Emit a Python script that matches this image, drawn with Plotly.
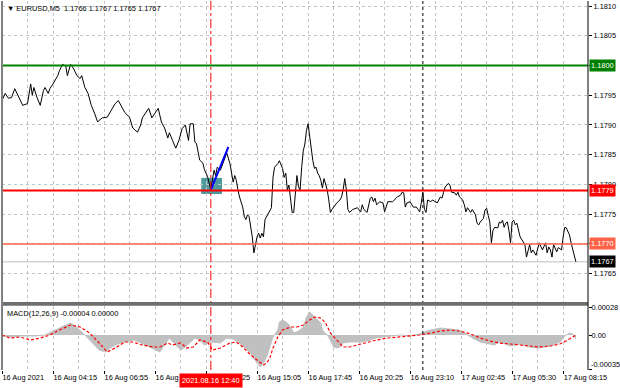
import plotly.graph_objects as go

# ---------------- data ----------------
price_bar = [0, 2, 4, 6, 8, 10, 13, 16, 18, 19, 20, 22, 24, 26, 27, 29, 30, 32, 35, 36, 38, 40, 41, 43, 45, 47, 49, 50,
             52, 54, 56, 58, 60, 61, 63, 66, 69, 71, 73, 75, 77, 80, 82, 85, 87, 88, 90, 92, 94, 96, 98, 100, 102, 104,
             105, 107, 109, 111, 113, 115, 117, 118, 120, 121, 122, 124, 126, 127, 129, 131, 132, 133, 134, 135, 137,
             138, 139, 140, 141, 143, 144, 145, 146, 147, 148, 149, 151, 152, 153, 154, 155, 156, 157, 158, 159, 160,
             161, 162, 163, 164, 165, 166, 168, 169, 170, 171, 173, 174, 176, 177, 178, 179, 180, 181, 182, 183, 184,
             185, 186, 187, 188, 189, 190, 191, 192, 193, 194, 195, 196, 197, 198, 199, 200, 201, 202, 204, 205, 206,
             207, 208, 210, 212, 213, 214, 215, 216, 217, 218, 220, 223, 225, 226, 227, 229, 231, 232, 233, 234, 235,
             237, 239, 240, 242, 245, 248, 250, 251, 252, 253, 254, 256, 258, 260, 261, 262, 263, 264, 265, 266, 267,
             269, 270, 273, 275, 276, 277, 278, 280, 281, 282, 284, 285, 286, 287, 289, 290, 291, 292, 294, 295, 297,
             298, 299, 300, 302, 303, 304, 305, 306, 307, 308, 309, 311, 312, 313, 314, 315, 316, 317, 318, 319, 320,
             321, 322, 323, 325, 327, 328, 329, 330, 331, 332, 333, 335, 336, 337, 339, 341, 342, 343, 344, 345, 346,
             348, 349, 351, 352, 353, 354, 355, 356, 357, 358, 359, 360]
price_close = [1.17941, 1.17953, 1.17945, 1.17946, 1.17961, 1.17950, 1.17933, 1.17936, 1.17969, 1.17950, 1.17963,
               1.17946, 1.17933, 1.17958, 1.17963, 1.17953, 1.17961, 1.17969, 1.17983, 1.17991, 1.18002, 1.17999,
               1.17983, 1.18002, 1.17994, 1.17983, 1.17978, 1.17983, 1.17963, 1.17953, 1.17933, 1.17920, 1.17905,
               1.17908, 1.17912, 1.17913, 1.17928, 1.17936, 1.17941, 1.17930, 1.17921, 1.17913, 1.17895, 1.17888,
               1.17900, 1.17912, 1.17920, 1.17928, 1.17912, 1.17920, 1.17928, 1.17905, 1.17895, 1.17878, 1.17887,
               1.17874, 1.17861, 1.17874, 1.17894, 1.17900, 1.17874, 1.17902, 1.17902, 1.17871, 1.17869, 1.17841,
               1.17836, 1.17825, 1.17813, 1.17791, 1.17812, 1.17824, 1.17815, 1.17829, 1.17824, 1.17832, 1.17840,
               1.17845, 1.17853, 1.17835, 1.17819, 1.17804, 1.17815, 1.17807, 1.17791, 1.17779, 1.17762, 1.17746,
               1.17741, 1.17749, 1.17746, 1.17728, 1.17712, 1.17685, 1.17702, 1.17712, 1.17718, 1.17710, 1.17718,
               1.17712, 1.17741, 1.17746, 1.17758, 1.17761, 1.17812, 1.17829, 1.17835, 1.17840, 1.17827, 1.17812,
               1.17819, 1.17791, 1.17799, 1.17774, 1.17753, 1.17753, 1.17779, 1.17815, 1.17796, 1.17791, 1.17829,
               1.17857, 1.17868, 1.17891, 1.17902, 1.17879, 1.17857, 1.17840, 1.17827, 1.17829, 1.17819, 1.17815,
               1.17807, 1.17794, 1.17810, 1.17791, 1.17774, 1.17753, 1.17758, 1.17762, 1.17769, 1.17774, 1.17779,
               1.17791, 1.17810, 1.17791, 1.17758, 1.17753, 1.17758, 1.17761, 1.17754, 1.17766, 1.17758, 1.17753,
               1.17777, 1.17779, 1.17771, 1.17777, 1.17766, 1.17771, 1.17769, 1.17754, 1.17771, 1.17771, 1.17779,
               1.17782, 1.17787, 1.17786, 1.17762, 1.17769, 1.17771, 1.17762, 1.17762, 1.17758, 1.17754, 1.17769,
               1.17787, 1.17758, 1.17753, 1.17774, 1.17771, 1.17774, 1.17769, 1.17779, 1.17777, 1.17787, 1.17796,
               1.17802, 1.17799, 1.17787, 1.17786, 1.17782, 1.17787, 1.17779, 1.17774, 1.17766, 1.17754, 1.17761,
               1.17753, 1.17758, 1.17749, 1.17735, 1.17732, 1.17737, 1.17743, 1.17757, 1.17760, 1.17748, 1.17737,
               1.17702, 1.17723, 1.17728, 1.17727, 1.17737, 1.17735, 1.17740, 1.17728, 1.17735, 1.17737, 1.17723,
               1.17702, 1.17737, 1.17740, 1.17732, 1.17735, 1.17712, 1.17702, 1.17699, 1.17678, 1.17690, 1.17699,
               1.17685, 1.17690, 1.17681, 1.17694, 1.17702, 1.17690, 1.17702, 1.17685, 1.17695, 1.17690, 1.17678,
               1.17699, 1.17687, 1.17694, 1.17690, 1.17712, 1.17728, 1.17727, 1.17720, 1.17715, 1.17702, 1.17690,
               1.17678, 1.17670]

macd_bar = [0, 5, 11, 21, 27, 33, 40, 43, 46, 52, 55, 61, 65, 68, 71, 74, 80, 83, 90, 96, 99, 102, 105, 109, 112,
            115, 118, 121, 124, 127, 131, 137, 141, 145, 149, 156, 160, 162, 164, 166, 168, 170, 173, 174, 176, 179,
            181, 183, 185, 187, 189, 191, 193, 195, 198, 200, 201, 204, 206, 208, 210, 212, 214, 218, 223, 226, 231,
            235, 239, 243, 250, 256, 262, 265, 269, 275, 281, 286, 290, 294, 300, 306, 309, 312, 319, 325, 331, 337,
            344, 347, 350, 353, 356, 358, 360]
macd_hist = [-0.00001, -0.00002, -0.00001, -0.00001, 0.0, 0.00005, 0.00010, 0.00012, 0.00009, 0.0, -0.00005,
             -0.00015, -0.00017, -0.00013, -0.00010, -0.00008, -0.00006, -0.00005, -0.00010, -0.00015, -0.00017,
             -0.00010, -0.00003, -0.00010, -0.00015, -0.00012, -0.00007, -0.00003, -0.00005, -0.00010, -0.00007,
             -0.00008, -0.00003, -0.00004, -0.00008, -0.00018, -0.00028, -0.00032, -0.00028, -0.00022, -0.00012,
             -0.00002, 0.00005, 0.00013, 0.00015, 0.00012, 0.00008, 0.00002, 0.00003, 0.00005, 0.00008, 0.00018,
             0.00023, 0.00020, 0.00015, 0.00012, 0.00005, 0.0, -0.00005, -0.00012, -0.00013, -0.00012, -0.00008,
             -0.00007, -0.00007, -0.00007, -0.00005, -0.00003, -0.00002, -0.00001, 0.0, -0.00001, 0.00001, 0.00003,
             0.00005, 0.00007, 0.00006, 0.00005, 0.00002, -0.00002, -0.00007, -0.00009, -0.00010, -0.00007,
             -0.00011, -0.00009, -0.00012, -0.00013, -0.00011, -0.00009, -0.00007, -0.00001, 0.00002, 0.00001,
             -0.00004]

signal_bar = [0, 5, 11, 18, 24, 30, 36, 43, 49, 55, 61, 66, 71, 77, 82, 88, 95, 99, 104, 107, 112, 116, 120, 124,
              129, 132, 137, 143, 147, 151, 156, 160, 164, 166, 168, 170, 173, 176, 181, 185, 189, 193, 196, 200,
              203, 206, 210, 214, 218, 223, 229, 235, 242, 250, 256, 262, 269, 275, 281, 287, 294, 300, 306, 312,
              319, 325, 331, 337, 344, 350, 356, 360]
signal_val = [0.0, -0.00003, -0.00002, -0.00005, -0.00003, 0.0, 0.00005, 0.00010, 0.00008, 0.00002, -0.00008,
              -0.00017, -0.00013, -0.00007, -0.00007, -0.00010, -0.00012, -0.00012, -0.00008, -0.00010, -0.00008,
              -0.00013, -0.00012, -0.00005, -0.00007, -0.00015, -0.00013, -0.00008, -0.00007, -0.00012, -0.00020,
              -0.00025, -0.00030, -0.00028, -0.00023, -0.00013, -0.00002, 0.00005, 0.00008, 0.00008, 0.00010,
              0.00015, 0.00018, 0.00017, 0.00012, 0.00002, -0.00005, -0.00012, -0.00012, -0.00010, -0.00008,
              -0.00005, -0.00003, -0.00002, -0.00001, 0.0, 0.00002, 0.00004, 0.00005, 0.00004, 0.00001, -0.00003,
              -0.00006, -0.00008, -0.00009, -0.00010, -0.00011, -0.00012, -0.00011, -0.00009, -0.00004, 0.0]

level_prices = [1.1800, 1.1779, 1.1770]
level_labels = ["1.1800", "1.1779", "1.1770"]
last_price = 1.1767
last_label = "1.1767"
trend_bar = [131, 142]
trend_price = [1.17791, 1.17863]
zone_bars = [125, 138]
zone_prices = [1.17784, 1.17811]
event_bar = 131
event_label = "2021.08.16 12:40"
marker_bar = 264

time_tick_bars = [0, 32, 64, 96, 128, 160, 192, 224, 256, 288, 320, 352]
time_tick_labels = ["16 Aug 2021", "16 Aug 04:15", "16 Aug 06:55", "16 Aug 09:35", "16 Aug 12:25",
                    "16 Aug 15:05", "16 Aug 17:45", "16 Aug 20:25", "16 Aug 23:10", "17 Aug 02:45",
                    "17 Aug 05:30", "17 Aug 08:15"]
price_ticks = [1.1765, 1.1770, 1.1775, 1.1780, 1.1785, 1.1790, 1.1795, 1.1800, 1.1805, 1.1810]
price_tick_labels = ["1.1765", "", "1.1775", "1.1780", "1.1785", "1.1790", "1.1795", "", "1.1805", "1.1810"]
macd_ticks = [0.00028, 0.0, -0.00035]
macd_tick_labels = ["0.00028", "0.00", ""]
macd_min_value = -0.00035
macd_min_label = "-0.00035"
title_text = "▼ EURUSD,M5  1.1766 1.1767 1.1765 1.1767"
macd_text = "MACD(12,26,9) -0.00004 0.00000"

# ---------------- styling ----------------
FONT = "Liberation Sans, Arial, sans-serif"
FS = 7.4
GRID = "#c4c4c4"
MAIN_DOM = [0.1843, 1.0]
MACD_DOM = [0.0, 0.1734]
X_RANGE = [0, 367.6]
level_colors = ["#008000", "#ff0000", "#ff6347"]
level_widths = [2, 2, 1.5]

fig = go.Figure()
fig.add_trace(go.Scatter(x=price_bar, y=price_close, mode="lines", line=dict(color="black", width=1),
                         xaxis="x", yaxis="y", hoverinfo="skip"))
fig.add_trace(go.Scatter(x=trend_bar, y=trend_price, mode="lines", line=dict(color="#0000ff", width=2),
                         xaxis="x", yaxis="y", hoverinfo="skip"))
fig.add_trace(go.Scatter(x=macd_bar, y=macd_hist, mode="lines", fill="tozeroy", fillcolor="#c0c0c0",
                         line=dict(color="#c0c0c0", width=1), xaxis="x2", yaxis="y2", hoverinfo="skip"))
fig.add_trace(go.Scatter(x=signal_bar, y=signal_val, mode="lines",
                         line=dict(color="#ff0000", width=1.2, dash="3px,2px"), xaxis="x2", yaxis="y2",
                         hoverinfo="skip"))

shapes = []
shapes.append(dict(type="rect", xref="x", yref="y", x0=zone_bars[0], x1=zone_bars[1], y0=zone_prices[0],
                   y1=zone_prices[1], fillcolor="#4e9a9e", line=dict(width=0), layer="below"))
for p, c, w in zip(level_prices, level_colors, level_widths):
    shapes.append(dict(type="line", xref="paper", yref="y", x0=0, x1=1, y0=p, y1=p, line=dict(color=c, width=w)))
shapes.append(dict(type="line", xref="paper", yref="y", x0=0, x1=1, y0=last_price, y1=last_price,
                   line=dict(color="#c0c0c0", width=1), layer="below"))
shapes.append(dict(type="line", xref="x", yref="paper", x0=event_bar, x1=event_bar, y0=0, y1=1,
                   line=dict(color="#ff0000", width=1, dash="dashdot")))
shapes.append(dict(type="line", xref="x", yref="paper", x0=marker_bar, x1=marker_bar, y0=0, y1=1,
                   line=dict(color="black", width=1, dash="dot")))
shapes.append(dict(type="rect", xref="paper", yref="paper", x0=0, x1=1, y0=MACD_DOM[1] + 0.001,
                   y1=MAIN_DOM[0], fillcolor="#6e6e6e", line=dict(width=0)))
shapes.append(dict(type="line", xref="paper", yref="paper", x0=1, x1=1, y0=0, y1=1,
                   line=dict(color="black", width=1)))
shapes.append(dict(type="line", xref="paper", yref="paper", x0=0, x1=0, y0=0, y1=1,
                   line=dict(color="#808080", width=2)))

annotations = []
for p, c, t in zip(level_prices, level_colors, level_labels):
    annotations.append(dict(xref="paper", yref="y", x=1, y=p, xanchor="left", yanchor="middle", text=t,
                            showarrow=False, bgcolor=c, borderpad=1, xshift=1,
                            font=dict(family=FONT, size=FS, color="white")))
annotations.append(dict(xref="paper", yref="y", x=1, y=last_price, xanchor="left", yanchor="middle",
                        text=last_label, showarrow=False, bgcolor="black", borderpad=1, xshift=1,
                        font=dict(family=FONT, size=FS, color="white")))
annotations.append(dict(xref="paper", yref="y2", x=1, y=macd_min_value, xanchor="left", yanchor="bottom",
                        text=macd_min_label, showarrow=False, xshift=1, yshift=-1,
                        font=dict(family=FONT, size=FS, color="black")))
annotations.append(dict(xref="x2", yref="paper", x=event_bar, y=0, xanchor="center", yanchor="top",
                        text=event_label, showarrow=False, bgcolor="#ff0000", borderpad=2, yshift=-3,
                        font=dict(family=FONT, size=FS, color="white")))
annotations.append(dict(xref="paper", yref="paper", x=0, y=1, xanchor="left", yanchor="top", text=title_text,
                        showarrow=False, xshift=3, yshift=-1, font=dict(family=FONT, size=FS, color="black")))
annotations.append(dict(xref="paper", yref="paper", x=0, y=MACD_DOM[1], xanchor="left", yanchor="top",
                        text=macd_text, showarrow=False, xshift=3, yshift=-1,
                        font=dict(family=FONT, size=FS, color="black")))

xcommon = dict(range=X_RANGE, tickvals=time_tick_bars, showgrid=True, gridcolor=GRID, griddash="3px,3px",
               gridwidth=1, zeroline=False, showline=False, tickangle=0, automargin=False,
               minor=dict(dtick=16, tick0=0, showgrid=True, gridcolor=GRID, griddash="3px,3px", ticks=""))

fig.update_layout(
    width=620, height=388,
    margin=dict(l=2, r=32, t=1, b=18, autoexpand=False),
    paper_bgcolor="white", plot_bgcolor="white",
    showlegend=False,
    font=dict(family=FONT, size=FS, color="black"),
    xaxis=dict(anchor="y", domain=[0, 1], showticklabels=False, ticks="", **xcommon),
    xaxis2=dict(anchor="y2", domain=[0, 1], matches="x", ticktext=time_tick_labels, ticks="outside",
                ticklen=3, tickcolor="black", ticklabelposition="outside right",
                tickfont=dict(family=FONT, size=FS, color="black"), **xcommon),
    yaxis=dict(domain=MAIN_DOM, side="right", anchor="x", range=[1.176025, 1.181084], tickvals=price_ticks,
               ticktext=price_tick_labels, showgrid=True, gridcolor=GRID, griddash="3px,3px", zeroline=False,
               ticks="outside", ticklen=3, tickcolor="black", automargin=False,
               tickfont=dict(family=FONT, size=FS, color="black")),
    yaxis2=dict(domain=MACD_DOM, side="right", anchor="x2", range=[-0.00035, 0.00029], tickvals=macd_ticks,
                ticktext=macd_tick_labels, showgrid=False, zeroline=False, ticks="outside", ticklen=3,
                tickcolor="black", automargin=False, ticklabelstandoff=-2,
                tickfont=dict(family=FONT, size=FS, color="black")),
    shapes=shapes,
    annotations=annotations,
)

fig.write_html("out.html", config={"displayModeBar": False},
               post_script="document.body.style.margin='0';document.body.style.overflow='hidden';")
